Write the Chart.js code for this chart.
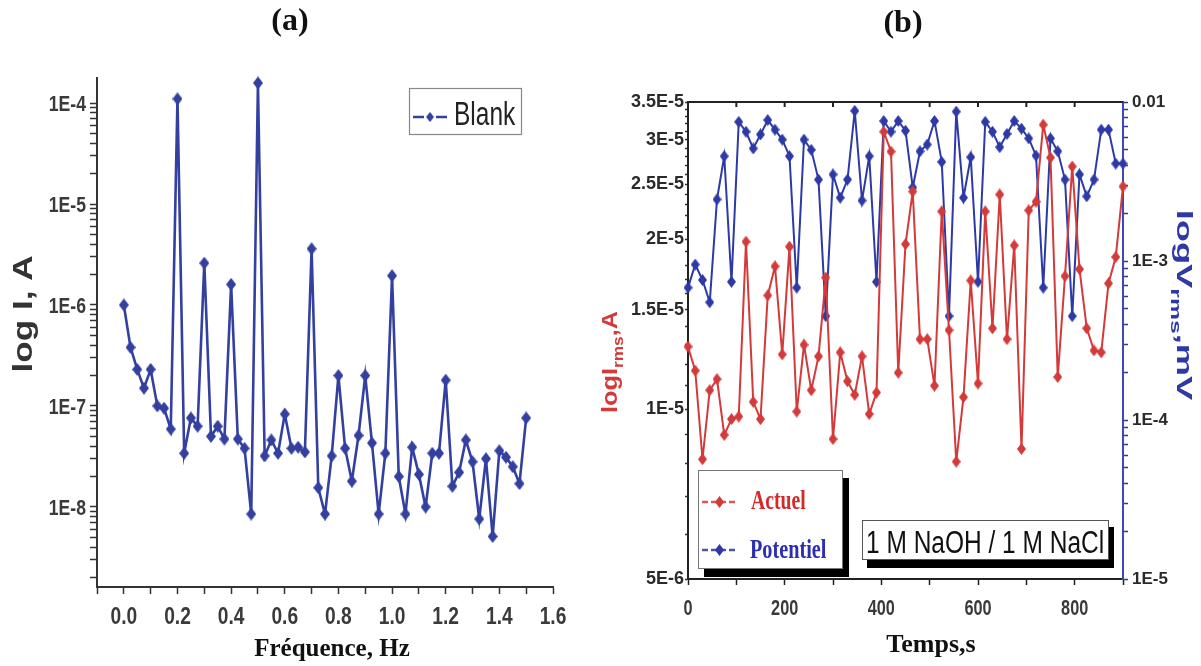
<!DOCTYPE html>
<html>
<head>
<meta charset="utf-8">
<script src="https://cdn.jsdelivr.net/npm/chart.js@4.4.1/dist/chart.umd.min.js"></script>
<style>
  html, body { margin: 0; padding: 0; background: #fff; }
  #wrap { position: relative; width: 1201px; height: 666px; overflow: hidden; }
  #chartA { position: absolute; left: 0; top: 0; }
  #chartB { position: absolute; left: 600px; top: 0; }
</style>
</head>
<body>
<div id="wrap">
  <canvas id="chartA" width="600" height="666"></canvas>
  <canvas id="chartB" width="601" height="666"></canvas>
</div>
<script>
// ---- panel (a): blank spectrum ----
const freqHz = [0, 0.025, 0.05, 0.075, 0.1, 0.125, 0.15, 0.175, 0.2, 0.225, 0.25, 0.275, 0.3, 0.325, 0.35, 0.375,
  0.4, 0.425, 0.45, 0.475, 0.5, 0.525, 0.55, 0.575, 0.6, 0.625, 0.65, 0.675, 0.7, 0.725, 0.75, 0.775, 0.8, 0.825,
  0.85, 0.875, 0.9, 0.925, 0.95, 0.975, 1.0, 1.025, 1.05, 1.075, 1.1, 1.125, 1.15, 1.175, 1.2, 1.225, 1.25, 1.275,
  1.3, 1.325, 1.35, 1.375, 1.4, 1.425, 1.45, 1.475, 1.5];
const blankCurrent = [1.0e-6, 3.8e-7, 2.3e-7, 1.5e-7, 2.3e-7, 1.0e-7, 9.5e-8, 5.9e-8, 1.1e-4, 3.4e-8, 7.6e-8, 6.3e-8,
  2.6e-6, 5.0e-8, 6.3e-8, 4.7e-8, 1.6e-6, 4.7e-8, 3.8e-8, 8.5e-9, 1.58e-4, 3.2e-8, 4.6e-8, 3.4e-8, 8.3e-8, 3.8e-8,
  3.9e-8, 3.5e-8, 3.6e-6, 1.55e-8, 8.5e-9, 3.2e-8, 2.0e-7, 3.8e-8, 1.8e-8, 5.1e-8, 2.0e-7, 4.3e-8, 8.5e-9, 3.4e-8,
  1.95e-6, 2.0e-8, 8.5e-9, 3.9e-8, 2.1e-8, 1.0e-8, 3.4e-8, 3.4e-8, 1.8e-7, 1.6e-8, 2.2e-8, 4.6e-8, 2.8e-8, 7.6e-9,
  3.0e-8, 5.1e-9, 3.6e-8, 3.1e-8, 2.5e-8, 1.7e-8, 7.6e-8];
const freqTicks = [0, 0.2, 0.4, 0.6, 0.8, 1.0, 1.2, 1.4, 1.6];
const currentDecades = [1e-8, 1e-7, 1e-6, 1e-5, 1e-4];

// ---- panel (b): current / potential noise vs time ----
const timeS = [0, 15, 30, 45, 60, 75, 90, 105, 120, 135, 150, 165, 180, 195, 210, 225, 240, 255, 270, 285, 300,
  315, 330, 345, 360, 375, 390, 405, 420, 435, 450, 465, 480, 495, 510, 525, 540, 555, 570, 585, 600, 615, 630,
  645, 660, 675, 690, 705, 720, 735, 750, 765, 780, 795, 810, 825, 840, 855, 870, 885, 900];
const actuelIrms = [1.29e-5, 1.17e-5, 8.15e-6, 1.08e-5, 1.13e-5, 9.0e-6, 9.6e-6, 9.7e-6, 1.98e-5, 1.03e-5, 9.6e-6,
  1.59e-5, 1.79e-5, 1.25e-5, 1.94e-5, 9.9e-6, 1.30e-5, 1.08e-5, 1.24e-5, 1.71e-5, 8.85e-6, 1.26e-5, 1.12e-5,
  1.06e-5, 1.24e-5, 9.8e-6, 1.07e-5, 3.1e-5, 2.86e-5, 1.16e-5, 1.96e-5, 2.43e-5, 1.33e-5, 1.33e-5, 1.10e-5,
  2.24e-5, 1.38e-5, 8.07e-6, 1.05e-5, 1.69e-5, 1.11e-5, 2.24e-5, 1.39e-5, 2.40e-5, 1.33e-5, 1.95e-5, 8.5e-6,
  2.25e-5, 2.33e-5, 3.19e-5, 2.79e-5, 1.14e-5, 1.72e-5, 2.69e-5, 1.77e-5, 1.39e-5, 1.27e-5, 1.26e-5, 1.67e-5,
  1.86e-5, 2.48e-5];
const potentielVrms = [6.8e-4, 9.5e-4, 7.6e-4, 5.5e-4, 2.44e-3, 4.56e-3, 7.4e-4, 7.5e-3, 6.5e-3, 5.1e-3, 6.25e-3,
  7.7e-3, 6.7e-3, 5.8e-3, 4.56e-3, 6.8e-4, 5.8e-3, 5.0e-3, 3.25e-3, 4.5e-4, 3.5e-3, 2.5e-3, 3.25e-3, 8.8e-3,
  2.4e-3, 4.56e-3, 7.4e-4, 7.6e-3, 6.5e-3, 7.6e-3, 6.6e-3, 2.9e-3, 4.9e-3, 5.4e-3, 7.6e-3, 4.2e-3, 4.5e-4,
  8.7e-3, 2.5e-3, 4.5e-3, 7.4e-4, 7.5e-3, 6.5e-3, 5.2e-3, 6.3e-3, 7.6e-3, 6.8e-3, 5.9e-3, 4.6e-3, 6.8e-4,
  5.9e-3, 4.9e-3, 3.25e-3, 4.5e-4, 3.5e-3, 2.55e-3, 3.25e-3, 6.7e-3, 6.7e-3, 4.1e-3, 4.1e-3];
const timeTicks = [0, 200, 400, 600, 800];
const irmsTicks = [5e-6, 1e-5, 1.5e-5, 2e-5, 2.5e-5, 3e-5, 3.5e-5];
const vrmsTicks = [1e-5, 1e-4, 1e-3, 1e-2];
const vrmsTickLabels = ['1E-5', '1E-4', '1E-3', '0.01'];

const SANS = "'Liberation Sans', Arial, sans-serif";
const SERIF = "'Liberation Serif', 'Times New Roman', serif";
const blueA = '#3340a0';
const blueB = '#2d3aa6';
const redB = '#d33a3a';

function diamond(w, h, fill) {
  const c = document.createElement('canvas');
  c.width = w; c.height = h;
  const g = c.getContext('2d');
  g.beginPath();
  g.moveTo(w / 2, 0); g.lineTo(w, h / 2); g.lineTo(w / 2, h); g.lineTo(0, h / 2);
  g.closePath();
  g.fillStyle = fill;
  g.fill();
  return c;
}
const dA = diamond(10, 13, blueA);
const dBlue = diamond(9, 12, blueB);
const dRed = diamond(9, 12, redB);

const near = (list, v) => list.findIndex(t => Math.abs(Math.log10(t) - Math.log10(v)) < 1e-6);

function logMinors(min, max) {
  const out = [];
  for (let e = -10; e <= 0; e++) {
    for (let k = 2; k <= 9; k++) {
      const v = k * Math.pow(10, e);
      if (v > min && v < max) out.push(v);
    }
  }
  return out;
}

// text helper: parts = [{t, sub}], (x, y) = baseline anchor
function label(ctx, parts, x, y, o) {
  ctx.save();
  ctx.translate(x, y);
  ctx.rotate((o.rot || 0) * Math.PI / 180);
  ctx.scale(o.sx || 1, o.sy || 1);
  ctx.fillStyle = o.color || '#222';
  ctx.textBaseline = 'alphabetic';
  ctx.textAlign = 'left';
  const font = (p) => `${o.weight || 'normal'} ${p.sub ? Math.round(o.size * 0.68) : o.size}px ${o.family}`;
  let total = 0;
  parts.forEach(p => { ctx.font = font(p); p.w = ctx.measureText(p.t).width; total += p.w; });
  let cx = o.align === 'left' ? 0 : (o.align === 'right' ? -total : -total / 2);
  parts.forEach(p => {
    ctx.font = font(p);
    ctx.fillText(p.t, cx, p.sub ? o.size * 0.28 : 0);
    cx += p.w;
  });
  ctx.restore();
}

function sample(ctx, x0, x1, y, color, img) {
  ctx.save();
  ctx.strokeStyle = color;
  ctx.lineWidth = 2.5;
  ctx.setLineDash([6, 3]);
  ctx.beginPath(); ctx.moveTo(x0, y); ctx.lineTo(x1, y); ctx.stroke();
  ctx.restore();
  ctx.drawImage(img, (x0 + x1) / 2 - img.width / 2, y - img.height / 2);
}

const panelADecor = {
  id: 'panelADecor',
  afterDraw(chart) {
    const ctx = chart.ctx;
    const xs = chart.scales.x, ys = chart.scales.y;
    // condensed tick labels, placed by the scales
    freqTicks.forEach(v => {
      label(ctx, [{ t: v.toFixed(1) }], xs.getPixelForValue(v), 624,
        { size: 24, weight: 'bold', family: SANS, color: '#3a3a3a', sx: 0.8 });
    });
    currentDecades.forEach(v => {
      label(ctx, [{ t: '1E' + Math.round(Math.log10(v)) }], 86, ys.getPixelForValue(v) + 8,
        { size: 22, weight: 'bold', family: SANS, color: '#3a3a3a', sx: 0.8, align: 'right' });
    });

    label(ctx, [{ t: '(a)' }], 290, 30, { size: 32, weight: 'bold', family: SERIF, color: '#111' });
    label(ctx, [{ t: 'Fréquence, Hz' }], 332, 656, { size: 25, weight: 'bold', family: SERIF, color: '#111' });
    label(ctx, [{ t: 'log I, A' }], 32, 314, { size: 27, weight: 'bold', family: SANS, color: '#333', rot: -90, sx: 1.3 });
    // legend box
    ctx.save();
    ctx.strokeStyle = '#888';
    ctx.lineWidth = 1.2;
    ctx.strokeRect(409.5, 88.5, 112, 46);
    ctx.strokeStyle = blueA;
    ctx.lineWidth = 2.5;
    ctx.beginPath();
    ctx.moveTo(413, 117); ctx.lineTo(424, 117);
    ctx.moveTo(436, 117); ctx.lineTo(447, 117);
    ctx.stroke();
    ctx.restore();
    ctx.drawImage(dA, 430 - 4, 117 - 5, 8, 10);
    label(ctx, [{ t: 'Blank' }], 454, 125, { size: 34, family: SANS, color: '#222', sx: 0.72, align: 'left' });
  }
};

const panelBDecor = {
  id: 'panelBDecor',
  afterDraw(chart) {
    const ctx = chart.ctx;
    const a = chart.chartArea;
    const xs = chart.scales.x;
    // top frame with inward ticks
    ctx.save();
    ctx.strokeStyle = '#222';
    ctx.lineWidth = 2;
    ctx.beginPath();
    ctx.moveTo(a.left, a.top); ctx.lineTo(a.right, a.top);
    for (let t = 100; t < 900; t += 100) {
      const px = xs.getPixelForValue(t);
      ctx.moveTo(px, a.top); ctx.lineTo(px, a.top + 5);
    }
    ctx.stroke();
    ctx.restore();

    timeTicks.forEach(v => {
      label(ctx, [{ t: String(v) }], xs.getPixelForValue(v), 615,
        { size: 22, weight: 'bold', family: SANS, color: '#3a3a3a', sx: 0.74 });
    });

    const o = -600;
    label(ctx, [{ t: '(b)' }], 903 + o, 32, { size: 32, weight: 'bold', family: SERIF, color: '#111' });
    label(ctx, [{ t: 'Temps,s' }], 931 + o, 652, { size: 26, weight: 'bold', family: SERIF, color: '#111' });
    label(ctx, [{ t: 'logI' }, { t: 'rms', sub: true }, { t: ',A' }], 617 + o, 362,
      { size: 22, weight: 'bold', family: SANS, color: redB, rot: -90, sx: 1.15 });
    label(ctx, [{ t: 'logV' }, { t: 'rms', sub: true }, { t: ',mV' }], 1177 + o, 305,
      { size: 22, weight: 'bold', family: SANS, color: blueB, rot: 90, sx: 1.65 });

    // legend with shadow
    ctx.save();
    ctx.fillStyle = '#000';
    ctx.fillRect(704 + o, 478, 145, 99);
    ctx.fillStyle = '#fff';
    ctx.fillRect(698 + o, 470, 145, 99);
    ctx.strokeStyle = '#777';
    ctx.lineWidth = 1;
    ctx.strokeRect(698.5 + o, 470.5, 144, 98);
    ctx.restore();
    sample(ctx, 702 + o, 737 + o, 502, '#e05555', dRed);
    label(ctx, [{ t: 'Actuel' }], 751 + o, 509, { size: 27, weight: 'bold', family: SERIF, color: '#d42a2a', sx: 0.73, align: 'left' });
    sample(ctx, 702 + o, 737 + o, 550, '#4a55a8', dBlue);
    label(ctx, [{ t: 'Potentiel' }], 750 + o, 558, { size: 27, weight: 'bold', family: SERIF, color: '#2b2fb0', sx: 0.75, align: 'left' });

    // electrolyte box
    ctx.save();
    ctx.fillStyle = '#000';
    ctx.fillRect(867 + o, 527, 247, 41);
    ctx.fillStyle = '#fff';
    ctx.fillRect(862 + o, 520, 247, 40);
    ctx.strokeStyle = '#555';
    ctx.lineWidth = 1;
    ctx.strokeRect(862.5 + o, 520.5, 246, 39);
    ctx.restore();
    label(ctx, [{ t: '1 M NaOH / 1 M NaCl' }], 866 + o, 553, { size: 31, family: SANS, color: '#111', sx: 0.79, align: 'left' });
  }
};

const common = {
  responsive: false,
  animation: false,
  events: [],
};

new Chart(document.getElementById('chartA'), {
  type: 'line',
  data: {
    datasets: [{
      label: 'Blank',
      data: freqHz.map((f, i) => ({ x: f, y: blankCurrent[i] })),
      borderColor: blueA,
      backgroundColor: blueA,
      borderWidth: 2.6,
      pointStyle: dA,
      pointRadius: 5,
      tension: 0,
      clip: false
    }]
  },
  options: {
    ...common,
    layout: { padding: { left: 0, top: 78, right: 47, bottom: 29 } },
    plugins: { legend: { display: false }, tooltip: { enabled: false } },
    scales: {
      x: {
        type: 'linear', min: -0.1, max: 1.6,
        afterFit: s => { s.height = 50; },
        ticks: { display: false, stepSize: 0.1, autoSkip: false, maxRotation: 0 },
        grid: { display: true, drawOnChartArea: false, tickLength: 7, tickColor: '#333', tickWidth: 1.5 },
        border: { display: true, color: '#333', width: 2 }
      },
      y: {
        type: 'logarithmic', min: 1.61e-9, max: 1.77e-4,
        afterFit: s => { s.width = 97; },
        afterBuildTicks: s => {
          s.ticks = logMinors(1.61e-9, 1.77e-4).concat(currentDecades).sort((p, q) => p - q).map(v => ({ value: v }));
        },
        ticks: { display: false, autoSkip: false },
        grid: { display: true, drawOnChartArea: false, tickLength: 7, tickColor: '#333', tickWidth: 1.5 },
        border: { display: true, color: '#333', width: 2 }
      }
    }
  },
  plugins: [panelADecor]
});

function sciLabel(v) {
  const e = Math.floor(Math.log10(v) + 1e-9);
  const m = Math.round(v / Math.pow(10, e) * 10) / 10;
  return m + 'E' + e;
}

new Chart(document.getElementById('chartB'), {
  type: 'line',
  data: {
    datasets: [{
      label: 'Actuel',
      data: timeS.map((t, i) => ({ x: t, y: actuelIrms[i] })),
      yAxisID: 'y',
      borderColor: redB,
      backgroundColor: redB,
      borderWidth: 2,
      pointStyle: dRed,
      pointRadius: 5,
      tension: 0,
      clip: false
    }, {
      label: 'Potentiel',
      data: timeS.map((t, i) => ({ x: t, y: potentielVrms[i] })),
      yAxisID: 'y2',
      borderColor: blueB,
      backgroundColor: blueB,
      borderWidth: 2,
      pointStyle: dBlue,
      pointRadius: 5,
      tension: 0,
      clip: false
    }]
  },
  options: {
    ...common,
    layout: { padding: { left: 0, top: 102, right: 0, bottom: 27 } },
    plugins: { legend: { display: false }, tooltip: { enabled: false } },
    scales: {
      x: {
        type: 'linear', min: 0, max: 900,
        afterFit: s => { s.height = 60; },
        ticks: { display: false, stepSize: 100, autoSkip: false, maxRotation: 0 },
        grid: { display: true, drawOnChartArea: false, tickLength: 6, tickColor: '#222', tickWidth: 1.5 },
        border: { display: true, color: '#222', width: 2 }
      },
      y: {
        type: 'logarithmic', position: 'left', min: 5e-6, max: 3.5e-5,
        afterFit: s => { s.width = 88; },
        afterBuildTicks: s => {
          const minors = [];
          for (let k = 6; k <= 34; k++) minors.push(k * 1e-6);
          s.ticks = minors.filter(v => near(irmsTicks, v) < 0).concat(irmsTicks).sort((p, q) => p - q).map(v => ({ value: v }));
        },
        ticks: {
          autoSkip: false, padding: 1, color: '#2a2a2a', font: { family: SANS, size: 18, weight: 'bold' },
          callback: v => near(irmsTicks, v) >= 0 ? sciLabel(v) : ''
        },
        grid: { display: true, drawOnChartArea: false, tickLength: 3, tickColor: '#333', tickWidth: 1.5 },
        border: { display: true, color: '#222', width: 2 }
      },
      y2: {
        type: 'logarithmic', position: 'right', min: 1e-5, max: 1e-2,
        afterFit: s => { s.width = 78; },
        afterBuildTicks: s => {
          s.ticks = logMinors(1e-5, 1e-2).concat(vrmsTicks).sort((p, q) => p - q).map(v => ({ value: v }));
        },
        ticks: {
          autoSkip: false, padding: 4, color: '#2a2a2a', font: { family: SANS, size: 17, weight: 'bold' },
          callback: v => { const i = near(vrmsTicks, v); return i >= 0 ? vrmsTickLabels[i] : ''; }
        },
        grid: { display: true, drawOnChartArea: false, tickLength: 5, tickColor: blueB, tickWidth: 1.5 },
        border: { display: true, color: '#3a48b8', width: 2 }
      }
    }
  },
  plugins: [panelBDecor]
});
</script>
</body>
</html>
